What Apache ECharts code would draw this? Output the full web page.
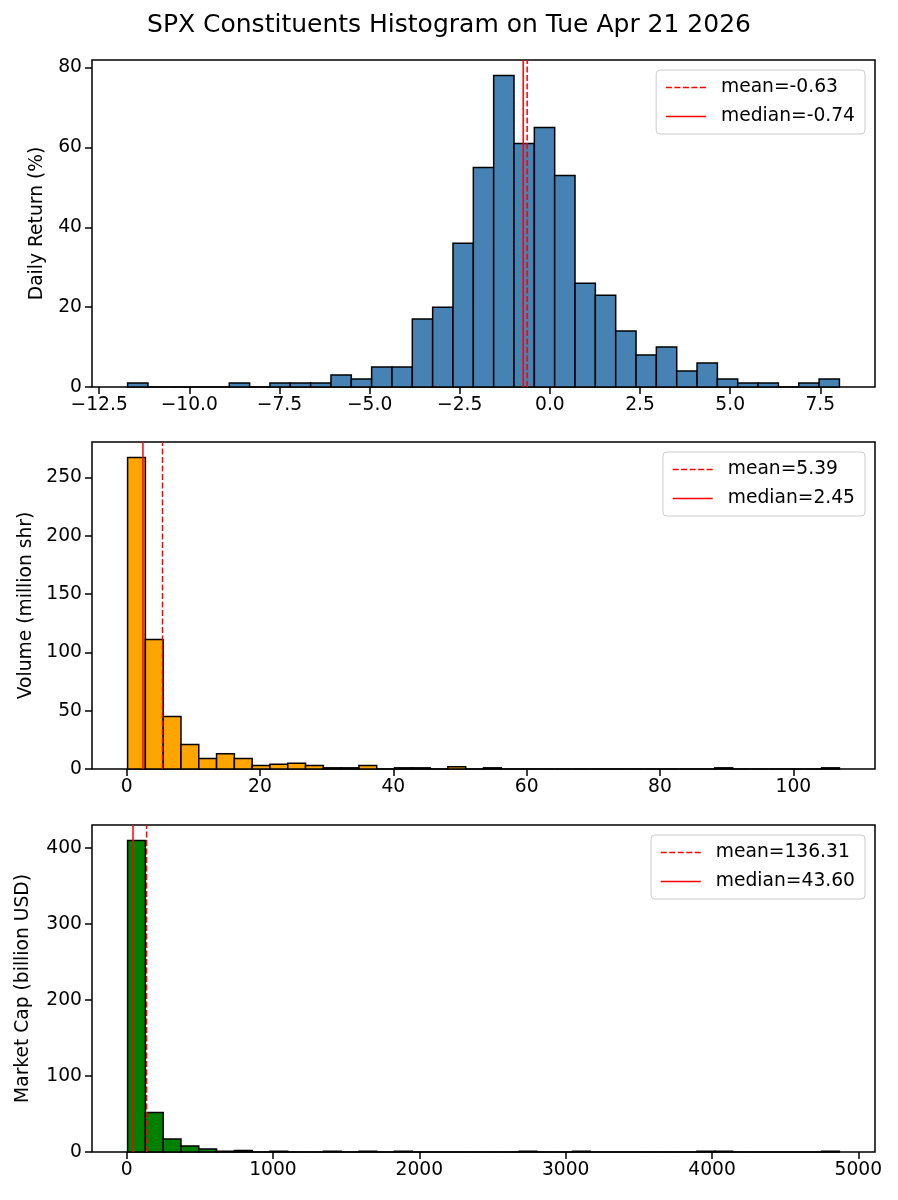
<!DOCTYPE html>
<html>
<head>
<meta charset="utf-8">
<title>SPX Constituents Histogram</title>
<script src="https://cdn.jsdelivr.net/npm/echarts@6/dist/echarts.min.js"></script>
<style>
  html, body { margin: 0; padding: 0; background: #fff; }
  #chart { width: 898px; height: 1200px; }
</style>
</head>
<body>
<div id="chart"></div>
<script>
// daily return (%), 35 bins
const retBinStart = -11.711
const retBinWidth = 0.564
const retCounts = [1, 0, 0, 0, 0, 1, 0, 1, 1, 1, 3, 2, 5, 5, 17, 20, 36, 55, 78, 61, 65, 53, 26, 23, 14, 8, 10, 4, 6, 2, 1, 1, 0, 1, 2]
const retMean = -0.63
const retMedian = -0.74
const retXTicks = [-12.5, -10, -7.5, -5, -2.5, 0, 2.5, 5, 7.5]
const retYTicks = [0, 20, 40, 60, 80]

// volume (million shr), 40 bins
const volBinStart = 0.15
const volBinWidth = 2.669
const volCounts = [267, 111, 45, 21, 9, 13, 9, 3, 4, 5, 3, 1, 1, 3, 0, 1, 1, 0, 2, 0, 1, 0, 0, 0, 0, 0, 0, 0, 0, 0, 0, 0, 0, 1, 0, 0, 0, 0, 0, 1]
const volMean = 5.39
const volMedian = 2.45
const volXTicks = [0, 20, 40, 60, 80, 100]
const volYTicks = [0, 50, 100, 150, 200, 250]

// market cap (billion USD), 40 bins
const capBinStart = 6.5
const capBinWidth = 121.6
const capCounts = [410, 52, 17, 8, 4, 1, 2, 0, 1, 0, 0, 1, 0, 1, 0, 1, 0, 0, 0, 0, 0, 0, 1, 0, 0, 1, 0, 0, 0, 0, 0, 0, 1, 1, 0, 0, 0, 0, 0, 1]
const capMean = 136.31
const capMedian = 43.60
const capXTicks = [0, 1000, 2000, 3000, 4000, 5000]
const capYTicks = [0, 100, 200, 300, 400]

const FONT = 'DejaVu Sans'
const FS = 18.7

const panels = [
  { counts: retCounts, start: retBinStart, width: retBinWidth, mean: retMean, median: retMedian,
    xTicks: retXTicks, yTicks: retYTicks, digits: 1, color: '#4682b4',
    label: 'Daily Return (%)', top: 60, nameGap: 45 },
  { counts: volCounts, start: volBinStart, width: volBinWidth, mean: volMean, median: volMedian,
    xTicks: volXTicks, yTicks: volYTicks, digits: 0, color: '#ffa500',
    label: 'Volume (million shr)', top: 442, nameGap: 56 },
  { counts: capCounts, start: capBinStart, width: capBinWidth, mean: capMean, median: capMedian,
    xTicks: capXTicks, yTicks: capYTicks, digits: 0, color: '#008000',
    label: 'Market Cap (billion USD)', top: 825, nameGap: 59 }
]

const fmt = (v, digits) => {
  const s = Math.abs(v).toFixed(digits)
  return v < 0 ? '\u2212' + s : s
}

const grids = []
const xAxes = []
const yAxes = []
const legends = []
const series = []

panels.forEach((p, i) => {
  const lo = p.start
  const hi = p.start + p.width * p.counts.length
  const pad = (hi - lo) * 0.05
  const yMax = Math.max(...p.counts) * 1.05
  const meanName = 'mean=' + p.mean.toFixed(2)
  const medianName = 'median=' + p.median.toFixed(2)

  grids.push({
    left: 92, top: p.top, width: 783, height: 327,
    show: true, borderColor: '#000', borderWidth: 1.5, backgroundColor: 'transparent'
  })
  xAxes.push({
    type: 'value', gridIndex: i, min: lo - pad, max: hi + pad,
    axisLine: { show: false, onZero: false },
    axisTick: { show: true, length: 7, lineStyle: { color: '#000', width: 1.5 }, customValues: p.xTicks },
    axisLabel: { customValues: p.xTicks, formatter: v => fmt(v, p.digits), color: '#000',
      fontFamily: FONT, fontSize: FS, margin: 9 },
    splitLine: { show: false }
  })
  yAxes.push({
    type: 'value', gridIndex: i, min: 0, max: yMax,
    name: p.label, nameLocation: 'middle', nameGap: p.nameGap,
    nameTextStyle: { color: '#000', fontFamily: FONT, fontSize: FS },
    axisLine: { show: false, onZero: false },
    axisTick: { show: true, length: 7, lineStyle: { color: '#000', width: 1.5 }, customValues: p.yTicks },
    axisLabel: { customValues: p.yTicks, formatter: v => String(v), color: '#000',
      fontFamily: FONT, fontSize: FS, margin: 10 },
    splitLine: { show: false }
  })
  legends.push({
    data: [meanName, medianName],
    orient: 'vertical', right: 33, top: p.top + 10,
    itemWidth: 40, itemHeight: 14, itemGap: 10,
    padding: [8, 10, 8, 9],
    backgroundColor: 'rgba(255,255,255,0.8)',
    borderColor: '#cccccc', borderWidth: 1, borderRadius: 4,
    lineStyle: { width: 1.5 },
    itemStyle: { opacity: 0, borderWidth: 0 },
    selectedMode: false,
    textStyle: { color: '#000', fontFamily: FONT, fontSize: FS, padding: [0, 0, 0, 10] }
  })

  const bins = p.counts.map((c, k) => [p.start + k * p.width, p.start + (k + 1) * p.width, c])
  series.push({
    type: 'custom', xAxisIndex: i, yAxisIndex: i,
    data: bins,
    encode: { x: [0, 1], y: 2 },
    renderItem: (params, api) => {
      const a = api.coord([api.value(0), 0])
      const b = api.coord([api.value(1), api.value(2)])
      return {
        type: 'rect',
        shape: { x: a[0], y: b[1], width: b[0] - a[0], height: a[1] - b[1] },
        style: { fill: p.color, stroke: '#000', lineWidth: 1.5 }
      }
    },
    silent: true, z: 2
  })
  series.push({
    name: meanName, type: 'line', xAxisIndex: i, yAxisIndex: i,
    data: [[p.mean, 0], [p.mean, yMax]],
    symbol: 'none', silent: true, z: 5,
    lineStyle: { color: '#ff0000', width: 1.5, type: [6, 2.5] },
    itemStyle: { color: '#ff0000' }
  })
  series.push({
    name: medianName, type: 'line', xAxisIndex: i, yAxisIndex: i,
    data: [[p.median, 0], [p.median, yMax]],
    symbol: 'none', silent: true, z: 5,
    lineStyle: { color: '#ff0000', width: 1.5, type: 'solid' },
    itemStyle: { color: '#ff0000' }
  })
})

const chart = echarts.init(document.getElementById('chart'), null, { renderer: 'canvas' })
chart.setOption({
  animation: false,
  backgroundColor: '#fff',
  title: {
    text: 'SPX Constituents Histogram on Tue Apr 21 2026',
    left: 'center', top: 8,
    textStyle: { color: '#000', fontFamily: FONT, fontSize: 25, fontWeight: 'normal' }
  },
  grid: grids,
  xAxis: xAxes,
  yAxis: yAxes,
  legend: legends,
  series: series
})
</script>
</body>
</html>
